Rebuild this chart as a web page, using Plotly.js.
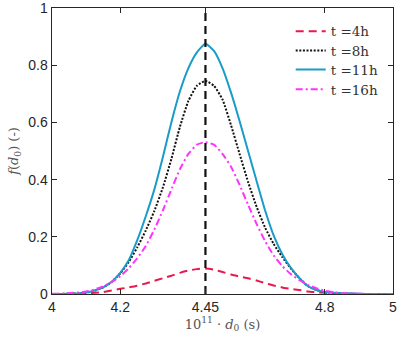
<!DOCTYPE html>
<html>
<head>
<meta charset="utf-8">
<script src="https://cdn.plot.ly/plotly-3.0.1.min.js"></script>
<style>html,body{margin:0;padding:0;background:#fff;}#chart{width:399px;height:338px;}</style>
</head>
<body>
<div id="chart"></div>
<script>
// x grid: 10^11 * d0 (s)
const d0 = [4.000,4.025,4.050,4.075,4.100,4.125,4.150,4.175,4.200,4.225,4.250,4.275,4.300,4.325,4.350,4.375,4.400,4.425,4.450,
            4.475,4.500,4.525,4.550,4.575,4.600,4.625,4.650,4.675,4.700,4.725,4.750,4.775,4.800,4.825,4.850,4.875,4.900,4.925,4.950,4.975,5.000];
const f4h  = [0,0,0,0.001,0.002,0.004,0.007,0.012,0.018,0.023,0.029,0.037,0.046,0.055,0.064,0.074,0.082,0.087,0.089,
              0.085,0.077,0.068,0.061,0.055,0.047,0.038,0.030,0.023,0.018,0.014,0.009,0.006,0.004,0.002,0.001,0.001,0,0,0,0,0];
const f8h  = [0,0,0.001,0.002,0.005,0.012,0.023,0.042,0.072,0.112,0.163,0.222,0.290,0.372,0.472,0.584,0.675,0.728,0.745,
              0.728,0.680,0.590,0.490,0.392,0.305,0.232,0.175,0.130,0.090,0.056,0.028,0.014,0.007,0.004,0.002,0.001,0,0,0,0,0];
const f11h = [0,0,0.001,0.002,0.005,0.012,0.023,0.043,0.074,0.118,0.188,0.272,0.365,0.478,0.600,0.708,0.790,0.845,0.875,
              0.850,0.790,0.704,0.605,0.500,0.395,0.292,0.205,0.140,0.092,0.056,0.028,0.014,0.007,0.004,0.002,0.002,0.001,0,0,0,0];
const f16h = [0.001,0.001,0.003,0.005,0.009,0.016,0.027,0.042,0.062,0.090,0.125,0.168,0.225,0.292,0.365,0.436,0.490,0.522,0.531,
              0.522,0.490,0.445,0.382,0.312,0.245,0.185,0.135,0.098,0.070,0.049,0.032,0.020,0.011,0.006,0.003,0.002,0.001,0,0,0,0];
const seriesNames = ['t =4h','t =8h','t =11h','t =16h'];
const vlineX = [4.45,4.45];
const vlineY = [0,1];
const xTicks = [4,4.2,4.45,4.8,5];
const xTickText = ['4','4.2','4.45','4.8','5'];
const yTicks = [0,0.2,0.4,0.6,0.8,1];
const yTickText = ['0','0.2','0.4','0.6','0.8','1'];

const lineShape = {shape:'spline', smoothing:0.5};
const traces = [
  {x:d0,y:f4h,name:seriesNames[0],legend:'legend',mode:'lines',line:Object.assign({color:'#e8194f',width:2,dash:'8px,5px'},lineShape)},
  {x:d0,y:f8h,name:seriesNames[1],legend:'legend2',mode:'lines',line:Object.assign({color:'#111111',width:2,dash:'2px,1.6px'},lineShape)},
  {x:d0,y:f11h,name:seriesNames[2],legend:'legend3',mode:'lines',line:Object.assign({color:'#1a9bc9',width:2},lineShape)},
  {x:d0,y:f16h,name:seriesNames[3],legend:'legend4',mode:'lines',line:Object.assign({color:'#ff33ff',width:2,dash:'7px,3px,2px,3px'},lineShape)},
  {x:vlineX,y:vlineY,mode:'lines',showlegend:false,line:{color:'#111111',width:2.2,dash:'8px,5px'}}
];

const serifFont = {family:'DejaVu Serif, Liberation Serif, serif', size:13.5, color:'#333'};
const axisCommon = {
  showline:true, mirror:'ticks', linecolor:'#262626', linewidth:1.4,
  ticks:'inside', ticklen:5, tickwidth:1.2, tickcolor:'#262626',
  showgrid:false, zeroline:false, ticklabeloverflow:'allow',
  tickfont:{family:'Liberation Sans, Arial, sans-serif', size:14, color:'#262626'}
};

function legendAt(yy){
  return {x:0.70,y:yy,xanchor:'left',yanchor:'middle',bgcolor:'rgba(0,0,0,0)',borderwidth:0,
    font:Object.assign({},serifFont)};
}

const layout = {
  width:399, height:338,
  font:serifFont,
  margin:{l:52,r:6,t:8,b:44},
  paper_bgcolor:'#fff', plot_bgcolor:'#fff',
  showlegend:true,
  legend:legendAt(0.918),
  legend2:legendAt(0.851),
  legend3:legendAt(0.784),
  legend4:legendAt(0.715),
  xaxis:Object.assign({},axisCommon,{range:[4,5],tickvals:xTicks,ticktext:xTickText,
    title:{text:'10<sup>11</sup> · <i>d</i><sub>0</sub> (s)',standoff:4,
      font:{family:'DejaVu Serif, Liberation Serif, serif',size:13,color:'#555'}}}),
  yaxis:Object.assign({},axisCommon,{range:[0,1],tickvals:yTicks,ticktext:yTickText,
    title:{text:'<i>f</i>(<i>d</i><sub>0</sub>) (-)',standoff:6,
      font:{family:'DejaVu Serif, Liberation Serif, serif',size:13,color:'#555'}}})
};

Plotly.newPlot('chart', traces, layout, {displayModeBar:false, staticPlot:true});
</script>
</body>
</html>
